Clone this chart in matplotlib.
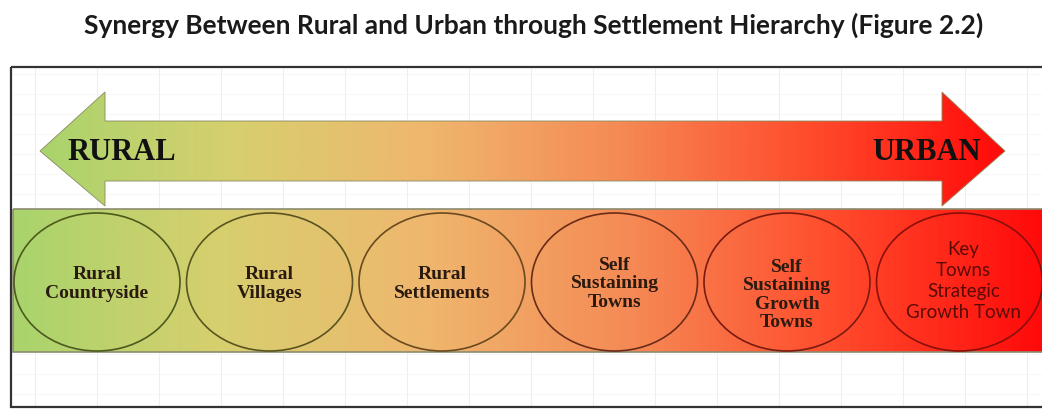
import numpy as np
import matplotlib.pyplot as plt
from matplotlib.patches import Polygon, Rectangle, Ellipse
from matplotlib.colors import LinearSegmentedColormap

title = "Synergy Between Rural and Urban through Settlement Hierarchy (Figure 2.2)"
ends = ["RURAL", "URBAN"]
stages = ["Rural\nCountryside", "Rural\nVillages", "Rural\nSettlements",
          "Self\nSustaining\nTowns", "Self\nSustaining\nGrowth\nTowns",
          "Key\nTowns\nStrategic\nGrowth Town"]
ramp = ["#a9d46c", "#d7cf6e", "#efb76e", "#f58a55", "#ff4b2c", "#ff0a0a"]
edge = ["#4d5a1e", "#5a5420", "#6a4a1e", "#6a2c18", "#7a1a10", "#8a0f0a"]

W, H = 1042, 410
fig = plt.figure(figsize=(W / 100, H / 100), dpi=100)
ax = fig.add_axes([0, 0, 1, 1])
ax.set_xlim(0, W)
ax.set_ylim(H, 0)
ax.axis("off")

cmap = LinearSegmentedColormap.from_list("rural_urban", ramp)
grad = np.linspace(0, 1, 512).reshape(1, -1)

# title
ax.text(534, 25, title, ha="center", va="center", fontsize=19,
        fontweight="bold", family="Lato", color="#1a1a1a")

# faint sheet grid
for x in np.arange(35, W, 62):
    ax.plot([x, x], [70, 406], color="#eeeeee", lw=0.8, zorder=0)
for y in np.arange(75, 406, 20):
    ax.plot([12, W], [y, y], color="#f5f5f5", lw=0.6, zorder=0)

# frame
ax.add_patch(Rectangle((11, 68), W + 20, 340, fill=False, ec="#333333", lw=1.6, zorder=1))

# double arrow
pts = [(40, 152), (105, 93), (105, 122), (942, 122), (942, 93), (1005, 152),
       (942, 207), (942, 182), (105, 182), (105, 207)]
arrow = Polygon(pts, closed=True, fc="none", ec="#8a8a60", lw=0.6, zorder=3)
ax.add_patch(arrow)
img = ax.imshow(grad, cmap=cmap, extent=[40, 1005, 207, 93], aspect="auto", zorder=2)
img.set_clip_path(Polygon(pts, closed=True, transform=ax.transData))
ax.text(67, 153, ends[0], ha="left", va="center", fontsize=22, fontweight="bold",
        family="Liberation Serif", color="#111111", zorder=4)
ax.text(981, 153, ends[1], ha="right", va="center", fontsize=22, fontweight="bold",
        family="Liberation Serif", color="#111111", zorder=4)

# band
band = Rectangle((13, 210), W, 143, fill=False, ec="#8c8c70", lw=1.2, zorder=3)
ax.add_patch(band)
ax.imshow(grad, cmap=cmap, extent=[13, W, 353, 210], aspect="auto", zorder=2)

# settlement circles
for i, label in enumerate(stages):
    cx = 97 + i * 172.5
    ax.add_patch(Ellipse((cx, 283), 166, 138, fill=False, ec=edge[i], lw=1.2, zorder=4))
    if i < 5:
        ty = 295 if label.count("\n") == 3 else 284
        ax.text(cx, ty, label, ha="center", va="center", fontsize=14, fontweight="bold",
                family="Liberation Serif", color="#2a1a10", linespacing=1.1, zorder=5)
    else:
        ax.text(cx + 4, 281, label, ha="center", va="center", fontsize=13.5,
                family="Lato", color="#5a0a05", linespacing=1.28, zorder=5)

ax.set_xlim(0, W)
ax.set_ylim(H, 0)
fig.savefig("out.png", dpi=100)
